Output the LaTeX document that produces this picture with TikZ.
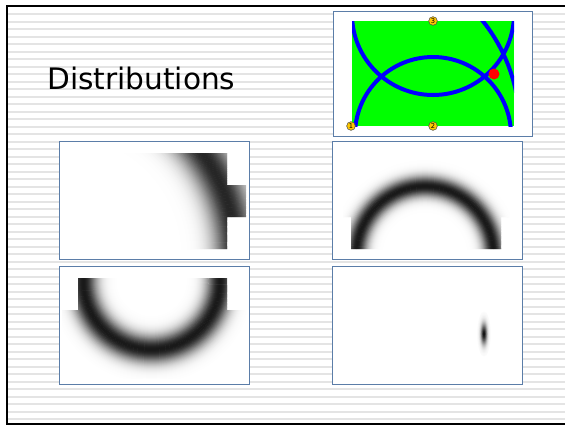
\documentclass[tikz,border=0pt]{standalone}
\usepackage{fontspec}
\setmainfont{DejaVu Sans}
\usepackage{xcolor}
\usepackage{tikz}
\usetikzlibrary{positioning}
\definecolor{slblue}{HTML}{5B7DA8}
\definecolor{mapgreen}{HTML}{00FF00}
\definecolor{arcblue}{HTML}{0000FF}
\definecolor{mkgold}{HTML}{FFC800}
\definecolor{stripe}{HTML}{E4E4E4}

\begin{document}
\begin{tikzpicture}[
  x=0.75pt, y=-0.75pt,
  panel/.style={
    rectangle, draw=slblue, line width=0.75pt, fill=white,
    minimum width=142.5pt, minimum height=88.5pt, inner sep=0pt
  },
  marker/.style={
    circle, draw=black!70, fill=mkgold, line width=0.4pt,
    minimum size=6.5pt, inner sep=0pt, font=\fontsize{5}{5}\selectfont
  },
  ring/.style={line width=1.1pt},
]
\useasboundingbox (0,0) rectangle (565,426);
\fill[white] (0,0) rectangle (565,426);

% slide background
\foreach \k in {1,...,55}
  \fill[stripe] (8,{6.7+7.5*\k-1}) rectangle (565,{6.7+7.5*\k+1});
\draw[line width=1.5pt] (565,6) -- (7,6) -- (7,424) -- (565,424);

% title
\node[anchor=base west, inner sep=0pt, font=\fontsize{22.2}{26}\selectfont]
  (title) at (47,89) {Distributions};

% map with the three range circles
\node[panel, minimum width=149.25pt, minimum height=93.75pt] (map) at (432.5,73.5) {};
\begin{scope}
  \clip (352,21) rectangle (514,126);
  \fill[mapgreen] (352,21) rectangle (514,126);
  \draw[arcblue, line width=3pt]
    (433,14) circle[radius=81]
    (433,135) circle[radius=78]
    (351,126) circle[radius=168.5];
\end{scope}
\node[circle, fill=red, minimum size=8.25pt, inner sep=0pt] (est) at (494,74) {};
\node[marker] (m1) at (351,126) {1};
\node[marker] (m2) at (433,126) {2};
\node[marker] (m3) at (433,21) {3};

% distribution panels
\node[panel] (distA) at (154.6,200) {};
\node[panel, right=61.5pt of distA] (distB) {};
\node[panel, below=4.5pt of distA] (distC) {};
\node[panel, below=4.5pt of distB] (distD) {};

% beacon 1
\begin{scope}
  \clip (62,153) rectangle (227,249) (227,185) rectangle (246,217);
  \foreach \d in {60,59,...,0} {
    \pgfmathsetmacro\g{85*exp(-\d*\d/(2*15*15))}
    \draw[ring, black!\g] (62,255) circle[radius=173.5+\d]
                          (62,255) circle[radius=173.5-\d];
  }
\end{scope}

% beacon 2
\begin{scope}
  \clip (343,153) rectangle (509,217) (351,217) rectangle (501,249);
  \foreach \d in {26,25,...,0} {
    \pgfmathsetmacro\g{90*exp(-\d*\d/(2*7.2*7.2))}
    \draw[ring, black!\g] (425,255) circle[radius=68.6+\d]
                          (425,255) circle[radius=68.6-\d];
  }
\end{scope}

% beacon 3
\begin{scope}
  \clip (78,278) rectangle (227,310) (62,310) rectangle (246,378);
  \foreach \d in {32,31,...,0} {
    \pgfmathsetmacro\g{90*exp(-\d*\d/(2*9.5*9.5))}
    \draw[ring, black!\g] (151.7,281) circle[radius=68.4+\d]
                          (151.7,281) circle[radius=68.4-\d];
  }
\end{scope}

% combined estimate
\foreach \k in {30,29,...,1} {
  \pgfmathsetmacro\g{95*exp(-(\k/10)*(\k/10)/2)}
  \fill[black!\g] (484,334) ellipse[x radius=\k*0.22, y radius=\k*0.75];
}

\end{tikzpicture}
\end{document}
